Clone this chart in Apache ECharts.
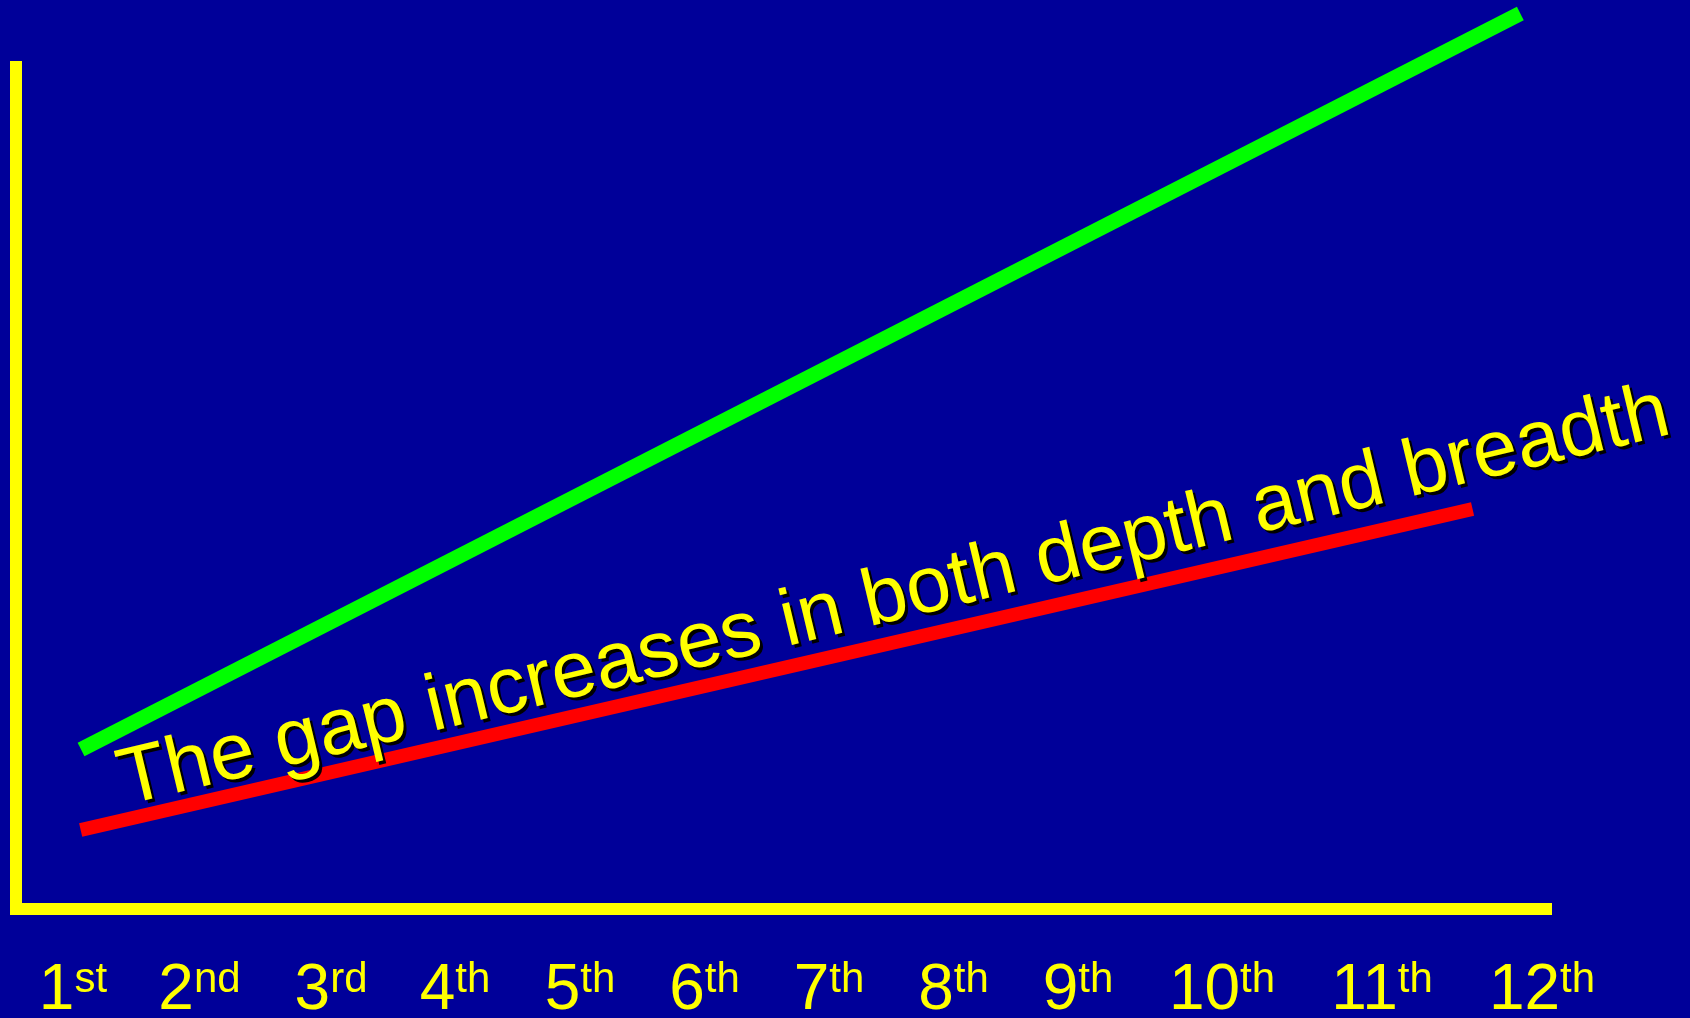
<!DOCTYPE html>
<html>
<head>
<meta charset="utf-8">
<script src="https://cdn.jsdelivr.net/npm/echarts@6/dist/echarts.min.js"></script>
<style>
html,body{margin:0;padding:0;background:#000099;}
#c{width:1690px;height:1018px;}
</style>
</head>
<body>
<div id="c"></div>
<script>
// ---- data ----
const gradeNumbers = ['1','2','3','4','5','6','7','8','9','10','11','12'];
const gradeSuffixes = ['st','nd','rd','th','th','th','th','th','th','th','th','th'];
const gradeLabelPositions = [0.928, 1.879, 2.868, 3.800, 4.739, 5.675, 6.611, 7.547, 8.482, 9.565, 10.768, 11.970];

const upperX = [0.989, 11.807];
const upperY = [18.81, 105.6];
const lowerX = [0.986, 11.448];
const lowerY = [9.32, 47.17];

const annotationText = 'The gap increases in both depth and breadth';
const annotationAt = [7.10, 36.7];
const annotationAngle = 13.5;

// ---- chart ----
const YELLOW = '#FFFF00';
const FONT = "'Liberation Sans', Arial, sans-serif";

function pairs(xs, ys) { return xs.map((x, i) => [x, ys[i]]); }
function labelIndex(v) {
  let best = 0, d = Infinity;
  gradeLabelPositions.forEach((p, i) => { const dd = Math.abs(p - v); if (dd < d) { d = dd; best = i; } });
  return best;
}

const chart = echarts.init(document.getElementById('c'), null, {renderer: 'canvas'});
chart.setOption({
  animation: false,
  backgroundColor: '#000099',
  grid: {left: 16, right: 144, top: 61, bottom: 109, containLabel: false, outerBoundsMode: 'none'},
  xAxis: {
    type: 'value', min: 0.5, max: 12,
    axisLine: {show: true, onZero: false, lineStyle: {color: YELLOW, width: 12, cap: 'square'}},
    axisTick: {show: false},
    splitLine: {show: false},
    axisLabel: {
      show: true,
      customValues: gradeLabelPositions,
      margin: 50,
      formatter: function (v) {
        const i = labelIndex(v);
        return '{n|' + gradeNumbers[i] + '}{s|' + gradeSuffixes[i] + '}';
      },
      rich: {
        n: {fontSize: 64, lineHeight: 64, color: YELLOW, fontFamily: FONT},
        s: {fontSize: 42, lineHeight: 43, verticalAlign: 'top', color: YELLOW, fontFamily: FONT}
      }
    }
  },
  yAxis: {
    type: 'value', min: 0, max: 100,
    axisLine: {show: true, onZero: false, lineStyle: {color: YELLOW, width: 12, cap: 'butt'}},
    axisTick: {show: false},
    splitLine: {show: false},
    axisLabel: {show: false}
  },
  series: [
    {
      name: 'Upper', type: 'line', clip: false, symbol: 'none',
      data: pairs(upperX, upperY),
      lineStyle: {color: '#00FF00', width: 15, cap: 'butt'}
    },
    {
      name: 'Lower', type: 'line', clip: false, symbol: 'none',
      data: pairs(lowerX, lowerY),
      lineStyle: {color: '#FF0000', width: 14, cap: 'butt'}
    }
  ]
});

const p = chart.convertToPixel({gridIndex: 0}, annotationAt);
chart.setOption({
  graphic: [{
    type: 'text',
    x: p[0], y: p[1],
    rotation: annotationAngle * Math.PI / 180,
    z: 100,
    style: {
      text: annotationText,
      fill: YELLOW,
      font: '80px ' + FONT,
      align: 'center', verticalAlign: 'middle',
      textAlign: 'center', textVerticalAlign: 'middle',
      textShadowColor: '#000000', textShadowBlur: 0.5,
      textShadowOffsetX: 3, textShadowOffsetY: 3,
      shadowColor: '#000000', shadowBlur: 0.5,
      shadowOffsetX: 3, shadowOffsetY: 3
    }
  }]
});
</script>
</body>
</html>
